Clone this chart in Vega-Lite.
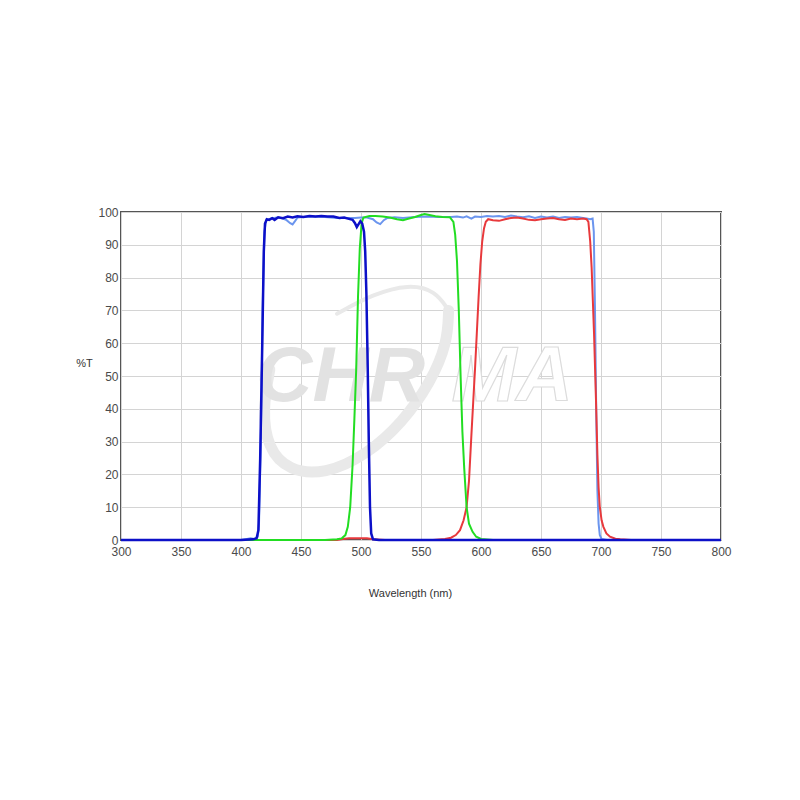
{
  "$schema": "https://vega.github.io/schema/vega-lite/v6.json",
  "width": 600,
  "height": 328,
  "autosize": {"type": "none"},
  "padding": {"left": 121, "top": 212, "right": 79, "bottom": 260},
  "background": "white",
  "view": {"stroke": "#555555", "strokeWidth": 2},
  "config": {
    "font": "Liberation Sans",
    "axis": {
      "gridColor": "#d4d4d4", "gridWidth": 1, "domain": false, "ticks": false,
      "labelFont": "Liberation Sans", "labelFontSize": 12, "labelColor": "#4a4a4a",
      "titleFont": "Liberation Sans", "titleFontSize": 11, "titleFontWeight": "normal", "titleColor": "#333333",
      "labelFlush": false, "labelOverlap": false
    }
  },
  "datasets": {
    "DB": [
      {"w":300,"t":0},{"w":350,"t":0},{"w":400,"t":0},{"w":410,"t":0.2},{"w":413,"t":0.5},{"w":414.5,"t":3},{"w":416,"t":25},{"w":417.5,"t":55},{"w":419,"t":88},{"w":420,"t":96.5},{"w":421.5,"t":97.8},{"w":423.5,"t":97.6},{"w":426,"t":98.1},{"w":428,"t":97.6},{"w":431,"t":98.4},{"w":435,"t":98.1},{"w":439,"t":98.6},{"w":443,"t":98.3},{"w":447,"t":98.7},{"w":452,"t":98.5},{"w":457,"t":98.8},{"w":462,"t":98.6},{"w":467,"t":98.8},{"w":472,"t":98.6},{"w":477,"t":98.6},{"w":482,"t":98.2},{"w":486,"t":98.3},{"w":490,"t":97.9},{"w":493,"t":97.6},{"w":495,"t":96.6},{"w":496.5,"t":95.4},{"w":498,"t":96.3},{"w":499.5,"t":97.2},{"w":501,"t":96.5},{"w":502.5,"t":94},{"w":503.5,"t":88},{"w":504.5,"t":75},{"w":505.5,"t":55},{"w":506.5,"t":30},{"w":507.5,"t":10},{"w":508.5,"t":2},{"w":510,"t":0.2},{"w":515,"t":0},{"w":600,"t":0},{"w":700,"t":0},{"w":800,"t":0}
    ],
    "LB": [
      {"w":300,"t":0},{"w":400,"t":0},{"w":405,"t":0.3},{"w":408,"t":0.5},{"w":411,"t":0.3},{"w":414,"t":1},{"w":415,"t":5},{"w":416.5,"t":30},{"w":418,"t":70},{"w":419.5,"t":94},{"w":421,"t":97.5},{"w":425,"t":98},{"w":430,"t":98.3},{"w":435,"t":98},{"w":438,"t":97.5},{"w":441,"t":96.6},{"w":443,"t":96.2},{"w":445,"t":97.2},{"w":447,"t":98.3},{"w":452,"t":98.5},{"w":460,"t":98.6},{"w":470,"t":98.5},{"w":480,"t":98.2},{"w":490,"t":98.2},{"w":495,"t":98.2},{"w":500,"t":98.3},{"w":505,"t":98.3},{"w":510,"t":97.8},{"w":513,"t":96.8},{"w":516,"t":96.3},{"w":519,"t":97.5},{"w":522,"t":98.2},{"w":528,"t":98.4},{"w":535,"t":98.2},{"w":545,"t":98.5},{"w":555,"t":98.6},{"w":565,"t":98.5},{"w":575,"t":98.5},{"w":580,"t":98.6},{"w":585,"t":98.3},{"w":588,"t":98.7},{"w":592,"t":98.0},{"w":595,"t":98.6},{"w":600,"t":98.5},{"w":605,"t":98.8},{"w":610,"t":98.6},{"w":615,"t":98.8},{"w":620,"t":98.5},{"w":625,"t":98.9},{"w":630,"t":98.6},{"w":635,"t":98.4},{"w":640,"t":98.7},{"w":645,"t":98.2},{"w":650,"t":98.6},{"w":655,"t":98.3},{"w":660,"t":98.6},{"w":665,"t":98.2},{"w":670,"t":98.5},{"w":675,"t":98.3},{"w":680,"t":98.5},{"w":685,"t":98.2},{"w":688,"t":98.0},{"w":691,"t":97.8},{"w":693,"t":98.0},{"w":694,"t":94},{"w":695,"t":70},{"w":696,"t":40},{"w":697,"t":15},{"w":698,"t":5},{"w":699,"t":1.5},{"w":700.5,"t":0.3},{"w":705,"t":0},{"w":800,"t":0}
    ],
    "G": [
      {"w":300,"t":0},{"w":400,"t":0},{"w":470,"t":0},{"w":480,"t":0.2},{"w":484,"t":0.5},{"w":487,"t":1.5},{"w":489,"t":4},{"w":491,"t":10},{"w":493,"t":23},{"w":494.5,"t":37},{"w":496,"t":52},{"w":497.5,"t":74},{"w":499,"t":89},{"w":500.5,"t":96.5},{"w":502,"t":98.3},{"w":507,"t":98.8},{"w":512,"t":98.8},{"w":518,"t":98.6},{"w":524,"t":98.3},{"w":530,"t":97.8},{"w":535,"t":97.5},{"w":540,"t":98},{"w":545,"t":98.5},{"w":550,"t":99.1},{"w":553,"t":99.4},{"w":557,"t":99.1},{"w":562,"t":98.7},{"w":568,"t":98.5},{"w":574,"t":98.4},{"w":577,"t":97},{"w":578.5,"t":93},{"w":580,"t":85},{"w":581.5,"t":70},{"w":583,"t":50},{"w":584.5,"t":33},{"w":586,"t":22},{"w":588,"t":10},{"w":590,"t":5},{"w":593,"t":2.5},{"w":596,"t":1},{"w":600,"t":0.3},{"w":610,"t":0},{"w":800,"t":0}
    ],
    "R": [
      {"w":300,"t":0},{"w":480,"t":0},{"w":485,"t":0.3},{"w":490,"t":0.5},{"w":505,"t":0.5},{"w":510,"t":0.2},{"w":520,"t":0},{"w":560,"t":0},{"w":570,"t":0.3},{"w":575,"t":0.7},{"w":579,"t":1.5},{"w":582.5,"t":3},{"w":585.5,"t":6},{"w":588,"t":10},{"w":590,"t":18},{"w":592,"t":32},{"w":593.5,"t":42},{"w":595,"t":52},{"w":596.5,"t":63},{"w":598,"t":74},{"w":599.5,"t":84},{"w":601,"t":91},{"w":602.5,"t":95},{"w":604,"t":97},{"w":606,"t":97.8},{"w":610,"t":97.5},{"w":615,"t":97.3},{"w":620,"t":97.8},{"w":625,"t":98.2},{"w":630,"t":98.3},{"w":635,"t":98},{"w":640,"t":97.6},{"w":645,"t":97.5},{"w":650,"t":97.8},{"w":655,"t":98},{"w":660,"t":98.2},{"w":665,"t":97.8},{"w":670,"t":97.6},{"w":675,"t":98},{"w":680,"t":97.8},{"w":685,"t":98},{"w":688,"t":97.8},{"w":689.5,"t":97},{"w":691,"t":91},{"w":692.2,"t":83},{"w":693.2,"t":73},{"w":694.2,"t":63},{"w":695.8,"t":43},{"w":697,"t":26},{"w":698,"t":16},{"w":699,"t":10},{"w":700.5,"t":6},{"w":702,"t":4},{"w":704.5,"t":2},{"w":707.5,"t":1},{"w":712,"t":0.4},{"w":716,"t":0.2},{"w":725,"t":0},{"w":800,"t":0}
    ],
    "SW": [
      {"i":1,"seg":"a","w":424,"t":52},{"i":2,"seg":"a","w":418,"t":40},{"i":3,"seg":"a","w":422,"t":28},{"i":4,"seg":"a","w":440,"t":21},{"i":5,"seg":"a","w":470,"t":20},{"i":6,"seg":"a","w":505,"t":26},{"i":7,"seg":"a","w":535,"t":36},{"i":8,"seg":"a","w":558,"t":48},{"i":9,"seg":"a","w":572,"t":60},{"i":10,"seg":"a","w":573,"t":70},
      {"i":11,"seg":"b","w":573,"t":70},{"i":12,"seg":"b","w":562,"t":76},{"i":13,"seg":"b","w":540,"t":78},{"i":14,"seg":"b","w":510,"t":75},{"i":15,"seg":"b","w":480,"t":69}
    ],
    "WM": [
      {"w":483,"t":49.4,"label":"CHR"},
      {"w":626,"t":49.4,"label":"MA"}
    ]
  },
  "encoding": {
    "x": {"field": "w", "type": "quantitative", "scale": {"domain": [300, 800], "nice": false, "zero": false},
      "axis": {"values": [300,350,400,450,500,550,600,650,700,750,800], "title": "Wavelength (nm)", "titleX": 289, "titleY": 47, "titleAnchor": "middle", "labelPadding": 6}},
    "y": {"field": "t", "type": "quantitative", "scale": {"domain": [0, 100], "nice": false},
      "axis": {"values": [0,10,20,30,40,50,60,70,80,90,100], "title": "%T", "titleAngle": 0, "titleX": -37, "titleY": 151, "titleAlign": "center", "titleBaseline": "middle", "labelPadding": 3}}
  },
  "layer": [
    {
      "data": {"name": "SW"},
      "transform": [{"filter": "datum.seg == 'a'"}],
      "mark": {"type": "line", "color": "#e9e9e9", "strokeWidth": 11, "interpolate": "basis", "strokeCap": "round"},
      "encoding": {"order": {"field": "i", "type": "quantitative"}}
    },
    {
      "data": {"name": "SW"},
      "transform": [{"filter": "datum.seg == 'b'"}],
      "mark": {"type": "line", "color": "#e9e9e9", "strokeWidth": 4, "interpolate": "basis", "strokeCap": "round"},
      "encoding": {"order": {"field": "i", "type": "quantitative"}}
    },
    {
      "data": {"name": "WM"},
      "transform": [{"filter": "datum.label == 'CHR'"}],
      "mark": {"type": "text", "font": "Liberation Sans", "fontWeight": "bold", "fontStyle": "italic", "fontSize": 78, "color": "#e2e2e2", "baseline": "middle", "align": "center"},
      "encoding": {"text": {"field": "label"}}
    },
    {
      "data": {"name": "WM"},
      "transform": [{"filter": "datum.label == 'MA'"}],
      "mark": {"type": "text", "font": "Liberation Sans", "fontWeight": "bold", "fontStyle": "italic", "fontSize": 78, "fill": "#ffffff", "stroke": "#dcdcdc", "strokeWidth": 1.2, "baseline": "middle", "align": "center"},
      "encoding": {"text": {"field": "label"}}
    },
    {
      "data": {"name": "LB"},
      "mark": {"type": "line", "color": "#6b95ee", "strokeWidth": 2}
    },
    {
      "data": {"name": "R"},
      "mark": {"type": "line", "color": "#e8393c", "strokeWidth": 2}
    },
    {
      "data": {"name": "G"},
      "mark": {"type": "line", "color": "#22dd22", "strokeWidth": 2}
    },
    {
      "data": {"name": "DB"},
      "mark": {"type": "line", "color": "#0c10c8", "strokeWidth": 2.5}
    }
  ]
}
